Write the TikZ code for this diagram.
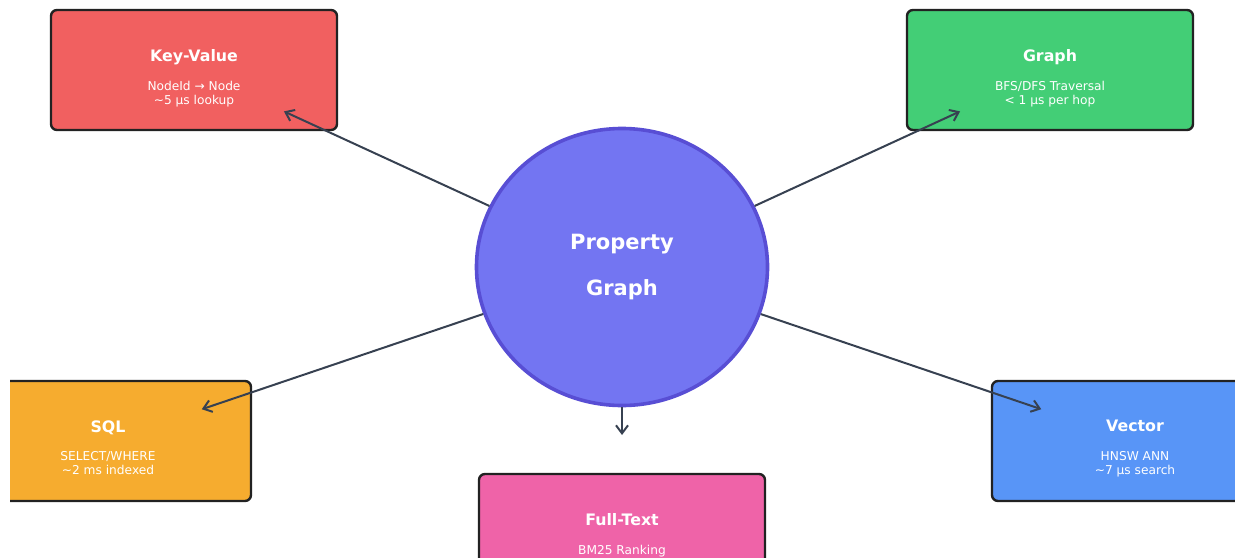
\documentclass[tikz,border=0pt]{standalone}
\usepackage{fontspec}
\setmainfont{DejaVu Sans}
\usepackage{xcolor}
\usetikzlibrary{arrows.meta,shapes.geometric,calc}
\definecolor{kvred}{RGB}{241,96,96}
\definecolor{grgreen}{RGB}{67,206,118}
\definecolor{sqlorange}{RGB}{246,172,47}
\definecolor{vecblue}{RGB}{88,149,247}
\definecolor{ftspink}{RGB}{239,99,168}
\definecolor{hubfill}{RGB}{115,117,242}
\definecolor{hubline}{RGB}{88,78,212}
\definecolor{boxline}{RGB}{34,34,34}
\definecolor{arrowgray}{RGB}{55,65,81}
\tikzset{
  box/.style ={draw=boxline,rounded corners=3pt,line width=1.2pt,minimum width=143pt,minimum height=60pt,inner sep=0pt},
  ttl/.style ={anchor=north,inner sep=0pt,text=white,font=\fontsize{7.9}{9}\selectfont\bfseries},
  sub/.style ={anchor=north,inner sep=0pt,text=white,align=center,font=\fontsize{6.1}{7}\selectfont},
  hub/.style ={ellipse,draw=hubline,fill=hubfill,line width=1.8pt,minimum width=145.5pt,minimum height=138.5pt,
               inner sep=0pt,text=white,align=center,font=\fontsize{10.5}{22.8}\selectfont\bfseries},
  flow/.style={-{Straight Barb[length=4pt,width=6pt,line join=miter]},line width=1pt,draw=arrowgray,shorten >=49.5pt},
}
\begin{document}
\begin{tikzpicture}[x=0.5pt,y=-0.5pt]
  \useasboundingbox (0,0) rectangle (1235,557);
  \clip (10,0) rectangle (1235,557);
  % central store
  \node[hub] (hub) at (622,267) {Property\\Graph};
  % access paths
  \node[box,fill=kvred]     (kv)  at (194,70)  {};
  \node[box,fill=grgreen]   (gr)  at (1050,70) {};
  \node[box,fill=sqlorange] (sql) at (108,441) {};
  \node[box,fill=vecblue]   (vec) at (1135,441) {};
  \node[box,fill=ftspink]   (fts) at (622,534) {};
  \node[ttl] (kv-t)  at (194,49)  {Key-Value};
  \node[sub] (kv-s)  at (194,80.5)    {NodeId → Node\\\textasciitilde5 µs lookup};
  \node[ttl] (gr-t)  at (1050,49) {Graph};
  \node[sub] (gr-s)  at (1050,80.5)   {BFS/DFS Traversal\\< 1 µs per hop};
  \node[ttl] (sql-t) at (108,420) {SQL};
  \node[sub] (sql-s) at (108,451.5)   {SELECT/WHERE\\\textasciitilde2 ms indexed};
  \node[ttl] (vec-t) at (1135,420) {Vector};
  \node[sub] (vec-s) at (1135,451.5)  {HNSW ANN\\\textasciitilde7 µs search};
  \node[ttl] (fts-t) at (622,513) {Full-Text};
  \node[sub] (fts-s) at (622,544.5)   {BM25 Ranking};
  \foreach \b in {kv,gr,sql,vec,fts} \draw[flow] (hub) -- (\b.center);
\end{tikzpicture}
\end{document}
